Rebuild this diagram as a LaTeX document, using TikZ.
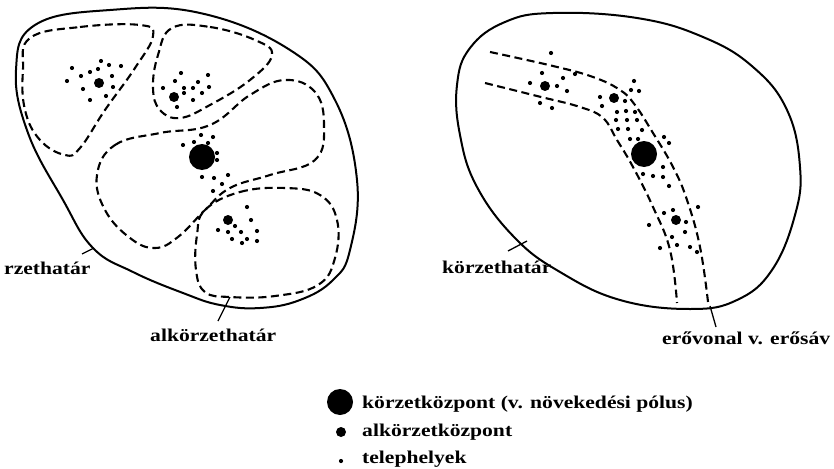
\documentclass[tikz,border=0pt]{standalone}
\usepackage{fontspec}
\newfontfamily\lblfamily{Liberation Serif}[FakeStretch=1.2]
\newcommand{\lblfont}{\lblfamily\bfseries\fontsize{18}{20}\selectfont}
\begin{document}
\begin{tikzpicture}[x=1pt,y=-1pt]
\tikzset{
  bound/.style={line width=2pt},
  subline/.style={line width=2.1pt, dash pattern=on 8pt off 4.5pt},
  leader/.style={line width=1.3pt},
  lbl/.style={font=\lblfont, inner sep=0pt, anchor=base west},
  site/.style={fill=black},
}
\useasboundingbox (0,0) rectangle (834,468);
% ---------------- left diagram ----------------
\draw[bound] plot[smooth cycle, tension=0.7] coordinates {
 (16,70) (35,25) (110,10) (200,13) (290,50) (335,100) (357,180) (350,250)
 (333,280) (300,300) (260,308) (220,305) (183,293) (133,272) (93,248)
 (63,200) (28,133)};
% sub-areas
\draw[subline] plot[smooth cycle, tension=0.7] coordinates {
 (30,38) (80,27) (140,25) (153,36) (135,68) (105,110) (80,148) (65,155)
 (40,140) (25,110) (23,70)};
\draw[subline] plot[smooth cycle, tension=0.7] coordinates {
 (172,28) (210,27) (255,40) (272,55) (250,80) (210,105) (180,118) (160,110)
 (153,88) (158,55)};
\draw[subline] plot[smooth cycle, tension=0.7] coordinates {
 (97,175) (115,145) (160,133) (210,125) (250,95) (285,80) (315,92) (324,125)
 (315,160) (270,175) (230,188) (205,210) (178,237) (155,248) (130,238) (105,210)};
\draw[subline] plot[smooth cycle, tension=0.7] coordinates {
 (205,210) (240,192) (285,188) (320,195) (337,220) (335,258) (318,285)
 (275,296) (230,297) (205,292) (196,270) (197,235)};
% centres
\fill (202,157) circle[radius=13];
\foreach \p in {(99,83),(174,97),(228,220)} \fill \p circle[radius=5];
% sites
\foreach \p in {(72,68),(101,61),(109,65),(121,66),(81,76),(90,72),(98,69),(112,76),
 (67,81),(113,87),(83,89),(106,96),(90,100),
 (181,73),(208,75),(175,81),(198,82),(163,88),(184,88),(193,88),(209,87),
 (184,93),(202,93),(193,100),(177,107),
 (201,135),(213,137),(194,142),(183,145),(208,143),(217,153),(217,160),
 (202,177),(214,178),(228,175),(222,184),(213,191),
 (247,207),(251,220),(235,226),(218,230),(228,232),(241,232),(257,231),
 (232,239),(242,243),(247,239),(257,241)}
 \fill[site] \p circle[radius=2.1];
% labels left
\node[lbl] (lblA) at (4,274) {rzethatár};
\node[lbl] (lblB) at (150,341) {alkörzethatár};
\coordinate (a1) at (82,254);
\coordinate (a2) at (94,248);
\coordinate (b1) at (218,321);
\coordinate (b2) at (230,297);
\draw[leader] (a1) -- (a2);
\draw[leader] (b1) -- (b2);
% ---------------- right diagram ----------------
\draw[bound] plot[smooth cycle, tension=0.7] coordinates {
 (553,13) (637,18) (703,37) (753,67) (787,110) (800,167) (795,215) (772,270)
 (737,300) (690,309) (620,300) (560,272) (515,238) (477,187) (460,135)
 (457,85) (470,48) (505,22)};
\draw[subline] plot[smooth, tension=0.7] coordinates {
 (490,52) (553,66) (593,77) (620,90) (635,105) (653,133) (673,167) (687,200)
 (700,247) (708,302)};
\draw[subline] plot[smooth, tension=0.7] coordinates {
 (485,83) (537,96) (580,107) (603,118) (617,140) (633,167) (653,207)
 (670,250) (677,303)};
\fill (644,154) circle[radius=13];
\foreach \p in {(545,86),(614,98),(676,220)} \fill \p circle[radius=5];
\foreach \p in {(551,53),(542,73),(563,78),(530,83),(557,86),(567,91),(540,103),
 (552,108),(575,74),
 (634,81),(631,90),(639,91),(600,97),(625,101),(602,106),(617,112),(626,111),
 (635,112),(616,120),(627,120),(637,120),(618,129),(628,129),(642,130),
 (630,139),(638,139),(664,137),(669,143),
 (643,174),(653,176),(663,167),(663,177),(669,186),
 (664,213),(673,210),(698,207),(649,225),(686,222),(685,232),(672,237),
 (677,245),(660,248),(690,247),(697,252)}
 \fill[site] \p circle[radius=2.1];
\node[lbl] (lblC) at (442,273) {körzethatár};
\node[lbl] (lblD) at (662,344) {erővonal v. erősáv};
\coordinate (c1) at (508,251);
\coordinate (c2) at (527,241);
\coordinate (d1) at (710,306);
\coordinate (d2) at (716,327);
\draw[leader] (c1) -- (c2);
\draw[leader] (d1) -- (d2);
% ---------------- legend ----------------
\fill (340,402) circle[radius=13];
\fill (341,432) circle[radius=5];
\fill (341,461) circle[radius=2.1];
\node[lbl] (leg1) at (362,408) {körzetközpont (v. növekedési pólus)};
\node[lbl] (leg2) at (362,436) {alkörzetközpont};
\node[lbl] (leg3) at (362,463) {telephelyek};
\end{tikzpicture}
\end{document}
